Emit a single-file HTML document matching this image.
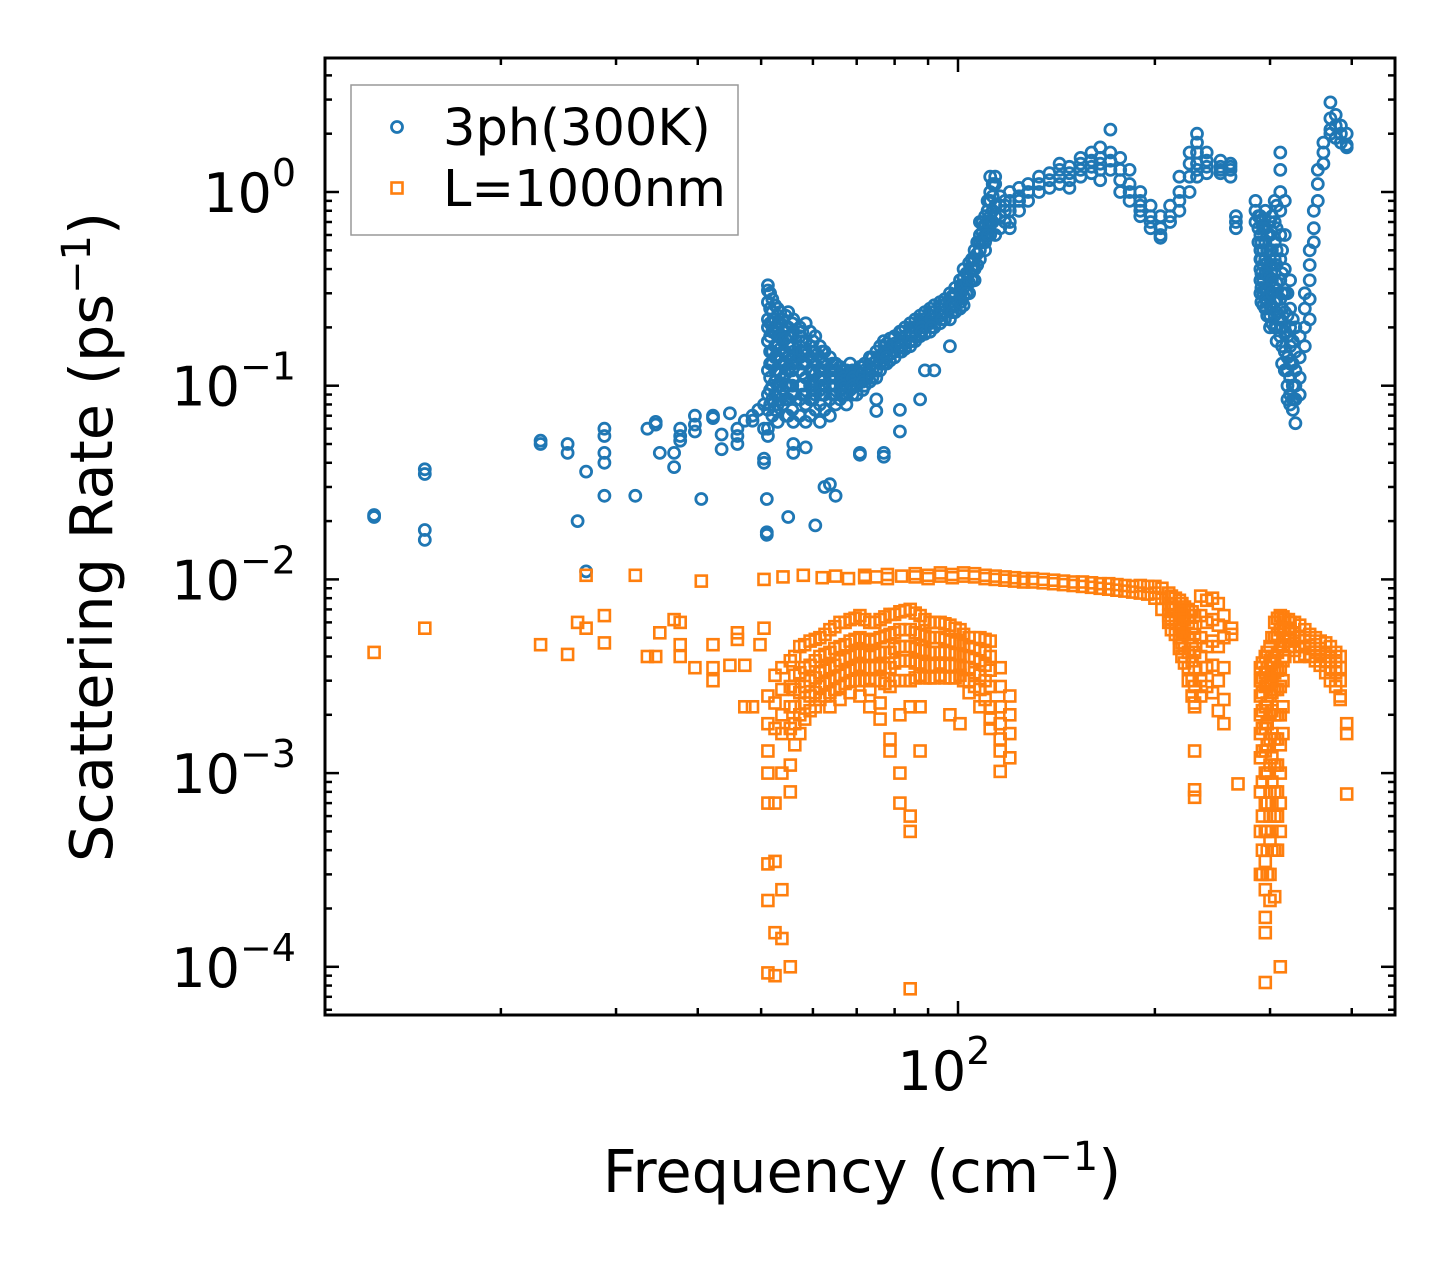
<!DOCTYPE html>
<html><head><meta charset="utf-8"><style>
html,body{margin:0;padding:0;background:#fff}
svg{display:block;font-family:"DejaVu Sans","Liberation Sans",sans-serif}
</style></head><body>
<svg id="chart" width="1455" height="1265" viewBox="0 0 1455 1265" xmlns="http://www.w3.org/2000/svg">
<rect width="1455" height="1265" fill="#fff"/>
<g id="marks"></g>
<g id="axes"></g>
<rect x="325" y="58" width="1070" height="957" fill="none" stroke="#000" stroke-width="3"/>
<g>
<rect x="351" y="85" width="387" height="150" fill="#fff" fill-opacity="0.8" stroke="#999" stroke-width="1.5"/>
<circle cx="397" cy="127" r="5.5" fill="none" stroke="#1f77b4" stroke-width="2.8"/>
<text x="443" y="145" font-size="51">3ph(300K)</text>
<rect x="391.5" y="182.5" width="11" height="11" fill="none" stroke="#ff7f0e" stroke-width="2.6"/>
<text x="443" y="206" font-size="51">L=1000nm</text>
</g>
<text x="862" y="1192" font-size="59" text-anchor="middle">Frequency (cm<tspan font-size="40" dy="-22">−1</tspan><tspan dy="22">)</tspan></text>
<text transform="translate(112,537) rotate(-90)" font-size="59" text-anchor="middle">Scattering Rate (ps<tspan font-size="40" dy="-22">−1</tspan><tspan dy="22">)</tspan></text>
</svg>
<script>
// ---- data ----
const blueFreq = [12.8,15.3,23,25.3,26.2,27,28.8,32.1,33.5,34.5,35,36.8,37.6,39.6,40.5,42.2,43.5,44.8,46,47.2,48.5,49.5,50.5,51,
51.2,52,53,54,55,56,57.3,58.5,59.4,60.5,61.5,62.5,63.7,65,66,67.5,68.4,70,70.8,72,73.3,75,76,77,78.7,80,81.5,83,84.5,86,87.5,89,90.6,92,93.9,95.5,97.2,99,100.7,102,104,106,108,110,112,114,116,118,120,124,128,133,138,143,148,154,160,165,171,177,183,190,197,204,211,218,226,232,240,252,261,266,
290,295,300,305,311,316,322,328,333,339,345,350,355,362,371,378,385,393];
const blueRate = [[0.021,0.0215],[0.035,0.037,0.018,0.016],[0.05,0.052],[0.05,0.045],[0.02],[0.036,0.011],[0.06,0.055,0.045,0.04,0.027],[0.027],[0.06],[0.065,0.063],[0.045],[0.038,0.045],[0.06,0.052,0.055],[0.07,0.063,0.058],[0.026],[0.07,0.068],[0.056,0.047],[0.072],[0.05,0.06,0.055],[0.066],[0.07,0.066],[0.075],[0.08,0.06,0.042,0.04],[0.026,0.017,0.0175],
[0.33,0.31,0.27,0.22,0.2,0.17,0.12,0.09,0.075,0.06,0.055],[0.28,0.24,0.21,0.19,0.15,0.13,0.1,0.085,0.07],[0.25,0.23,0.2,0.18,0.16,0.14,0.12,0.1,0.08,0.065],[0.22,0.19,0.17,0.15,0.13,0.11,0.095,0.08],[0.24,0.2,0.18,0.16,0.14,0.12,0.1,0.085,0.07,0.021],[0.22,0.19,0.15,0.13,0.11,0.09,0.065,0.05,0.045],[0.2,0.18,0.16,0.14,0.12,0.1,0.085,0.07],[0.21,0.17,0.15,0.13,0.11,0.09,0.08,0.065,0.048],[0.19,0.16,0.14,0.12,0.1,0.085,0.07],[0.18,0.15,0.13,0.115,0.1,0.09,0.075,0.019],[0.16,0.14,0.12,0.11,0.095,0.08,0.065],[0.15,0.13,0.12,0.1,0.09,0.075,0.03],[0.14,0.12,0.11,0.1,0.085,0.07,0.031],[0.13,0.12,0.11,0.1,0.09,0.08,0.027],[0.125,0.115,0.105,0.095,0.085],[0.12,0.11,0.1,0.09,0.08],[0.13,0.115,0.1,0.095],[0.12,0.11,0.1,0.09],[0.125,0.115,0.105,0.044,0.045],[0.13,0.12,0.11,0.1],[0.14,0.125,0.115,0.105],[0.15,0.135,0.12,0.11,0.085,0.074],[0.16,0.14,0.13,0.12],[0.17,0.15,0.14,0.13,0.045,0.043],[0.175,0.16,0.145,0.135],[0.18,0.165,0.15,0.14],[0.19,0.17,0.16,0.15,0.075,0.058],[0.2,0.18,0.165,0.155],[0.21,0.19,0.17,0.16],[0.22,0.2,0.18,0.17],[0.23,0.21,0.19,0.18,0.085],[0.24,0.22,0.2,0.185,0.12],[0.25,0.23,0.21,0.19],[0.26,0.24,0.22,0.2,0.12],[0.27,0.25,0.23,0.21],[0.28,0.26,0.24,0.22],[0.3,0.27,0.25,0.22,0.16],[0.32,0.29,0.26,0.24],[0.35,0.31,0.28,0.25],[0.4,0.36,0.32,0.29,0.26],[0.43,0.38,0.34,0.3],[0.5,0.45,0.4,0.35],[0.6,0.7,0.55,0.5,0.45],[0.75,0.68,0.6,0.55,0.5],[1.2,1.0,0.9,0.75,0.7,0.6],[1.2,1.1,0.85,0.75,0.6],[0.95,0.85,0.75,0.65],[0.9,0.85,0.8,0.7],[1.0,0.9,0.8,0.7,0.65],[1.05,0.95,0.9,0.8],[1.1,1.0,0.9],[1.2,1.1,1.0],[1.25,1.15,1.05],[1.4,1.3,1.2,1.1],[1.35,1.25,1.15,1.05],[1.5,1.4,1.3,1.2],[1.6,1.45,1.35,1.25],[1.7,1.5,1.4,1.3,1.15],[2.1,1.6,1.45,1.3],[1.5,1.3,1.15,1.0],[1.3,1.1,1.0,0.9],[1.0,0.9,0.8,0.75,0.85],[0.85,0.75,0.7,0.65],[0.75,0.65,0.6,0.58],[0.85,0.75,0.7],[1.2,1.0,0.9,0.8],[1.6,1.4,1.2,1.0],[2.0,1.8,1.6,1.4,1.3,1.2],[1.6,1.45,1.35,1.25],[1.45,1.35,1.3,1.25],[1.4,1.35,1.3,1.2],[0.75,0.7,0.65],
[0.75,0.6,0.5,0.45,0.4,0.35,0.3],[0.8,0.65,0.55,0.45,0.38,0.32,0.28,0.25],[0.7,0.6,0.5,0.42,0.36,0.3,0.26,0.23,0.2],[0.9,0.7,0.55,0.45,0.38,0.32,0.27,0.23,0.2],[1.6,1.3,1.0,0.8,0.6,0.45,0.35,0.28,0.22,0.18],[0.9,0.6,0.4,0.3,0.24,0.19,0.15,0.12],[0.35,0.25,0.2,0.16,0.13,0.11,0.09,0.08],[0.2,0.15,0.12,0.1,0.085,0.064],[0.18,0.14,0.11,0.09],[0.3,0.25,0.2,0.16],[0.5,0.42,0.35,0.28,0.22],[0.8,0.65,0.55],[1.3,1.1,0.9],[1.8,1.6,1.4],[2.9,2.4,2.1,2.0],[2.5,2.2,1.9],[2.2,2.0,1.8],[2.0,1.75,1.7]];
const blueFreq2 = [51.6,52.5,53.5,54.5,55.8,57.8,60,62,64.3,66.8,69,71.5,74,77.8,82,85,88,91,94.5,98,101,103,105,107,109,111,113,285,288,291,293,297,302,307,313,319,325];
const blueRate2 = [[0.3,0.25,0.21,0.18,0.15,0.13,0.11,0.095,0.08],[0.26,0.22,0.19,0.16,0.14,0.12,0.105,0.09,0.075],[0.24,0.21,0.18,0.155,0.135,0.115,0.1,0.085],[0.23,0.2,0.175,0.15,0.13,0.115,0.1,0.085,0.07],[0.21,0.18,0.16,0.14,0.12,0.1,0.09,0.075],[0.19,0.17,0.15,0.13,0.115,0.1,0.09],[0.17,0.15,0.135,0.12,0.105,0.095,0.085],[0.15,0.135,0.12,0.11,0.1,0.09],[0.13,0.12,0.11,0.1,0.09],[0.12,0.11,0.1,0.09],[0.12,0.11,0.1,0.09],[0.125,0.115,0.105,0.095],[0.14,0.13,0.12,0.11],[0.165,0.15,0.14,0.13],[0.19,0.175,0.16,0.15],[0.2,0.185,0.17],[0.22,0.2,0.19],[0.24,0.22,0.2],[0.26,0.24,0.22],[0.29,0.26,0.24],[0.33,0.3,0.27],[0.38,0.34,0.3],[0.45,0.4,0.35],[0.55,0.48,0.42],[0.7,0.62,0.55],[0.9,0.8,0.7,0.6],[1.1,0.95,0.8,0.7],[0.9,0.8,0.7],[0.75,0.65,0.55],[0.7,0.55,0.45,0.38,0.32,0.27],[0.65,0.5,0.42,0.35,0.3,0.26],[0.6,0.5,0.43,0.37,0.31,0.27,0.23],[0.75,0.62,0.5,0.42,0.35,0.3,0.25,0.21],[0.85,0.65,0.5,0.42,0.34,0.28,0.24,0.2,0.17],[0.5,0.38,0.3,0.25,0.2,0.16,0.13],[0.3,0.23,0.18,0.14,0.12,0.1,0.085],[0.22,0.17,0.13,0.1,0.085,0.075]];

const orangeFreq = [12.8,15.3,23,25.3,26.2,27,28.8,32.1,33.5,34.5,35,36.8,37.6,39.6,40.5,42.2,44.8,46,47.2,48.5,49.8,50.5,
51.2,52.5,53.8,55.4,57.3,59.4,61.5,63.7,66,68.4,70.8,73.3,76,78.7,81.5,84.5,87.5,90.6,93.9,97.2,100.7,104,108,112,116,120,
54,58,62,65,68,72,75,78,82,86,90,94,98,102,106,110,114,118,122,126,130,135,140,145,150,155,160,165,170,175,180,185,190,195,
200,205,210,215,220,225,230,235,240,245,250,255,262,268,
290,295,300,305,311,316,322,333,345,358,371,384,393];
const orangeRate = [[0.0042],[0.0056],[0.0046],[0.0041],[0.006],[0.0056,0.0105],[0.0065,0.0047],[0.0105],[0.004],[0.004],[0.0053],[0.0062],[0.006,0.0046,0.004],[0.0035],[0.0098],[0.0035,0.0046,0.003],[0.0036],[0.0053,0.0049],[0.0036,0.0022],[0.0022],[0.0046],[0.01,0.0056],
[0.0018,0.0013,0.001,0.0007,0.00034,0.00022,0.000093,0.0025],[0.0032,0.0023,0.0017,0.0007,0.00035,0.00015,0.00009],[0.0035,0.0027,0.002,0.0016,0.001,0.00025,0.00014],[0.0038,0.0028,0.0022,0.0017,0.0011,0.0008,0.0001],[0.0045,0.0033,0.0026,0.002,0.0016],[0.0048,0.0036,0.003,0.0025,0.0021],[0.005,0.004,0.0033,0.0028,0.0024],[0.0055,0.0042,0.0035,0.003,0.0026,0.0022],[0.006,0.0045,0.0038,0.0032,0.0028,0.0024],[0.0062,0.0048,0.004,0.0034,0.003,0.0026],[0.0065,0.005,0.0042,0.0036,0.003,0.0025],[0.006,0.0048,0.004,0.0035,0.003,0.0027,0.0022],[0.0062,0.005,0.0042,0.0036,0.003,0.0023,0.0019],[0.0066,0.0052,0.0042,0.0035,0.0028,0.0015,0.0013],[0.0068,0.0055,0.0045,0.0038,0.003,0.002,0.001,0.0007],[0.007,0.0055,0.0045,0.0038,0.003,0.0022,0.0005,0.0006,0.000077],[0.0065,0.0052,0.0043,0.0037,0.0032,0.0022,0.0013],[0.006,0.005,0.0042,0.0036,0.0031],[0.006,0.005,0.0042,0.0037,0.0032],[0.0058,0.0048,0.0042,0.0036,0.0031,0.002],[0.0055,0.0047,0.0041,0.0036,0.0032,0.0018],[0.005,0.0045,0.004,0.0035,0.003,0.0026],[0.005,0.0043,0.0038,0.0032,0.0027,0.0022],[0.0048,0.004,0.0034,0.0028,0.0022,0.0019,0.0017],[0.0035,0.0028,0.0022,0.0018,0.0015,0.0013,0.00102],[0.0025,0.002,0.0016,0.0012],
[0.0103],[0.0105],[0.0102],[0.0104],[0.0101],[0.0105,0.0102],[0.0103],[0.0106,0.0101],[0.0104],[0.0103,0.0107],[0.0105,0.0101],[0.0104,0.0108],[0.0102,0.0106],[0.0104,0.0108],[0.0103,0.0107],[0.0105,0.0101],[0.0104,0.01],[0.0103,0.0099],[0.0102,0.0098],[0.0101,0.0097],[0.0101,0.0097],[0.01,0.0096],[0.0099,0.0095],[0.0098,0.0094],[0.0097,0.0093],[0.0097,0.0092],[0.0096,0.0091],[0.0095,0.009],[0.0095,0.0089],[0.0094,0.0088],[0.0093,0.0087],[0.0092,0.0086],[0.0093,0.0085],[0.0092,0.0084],
[0.0092,0.0085,0.008],[0.009,0.008,0.007],[0.0085,0.0075,0.0065,0.006],[0.008,0.007,0.006,0.0052],[0.0075,0.0065,0.0055,0.0047,0.004],[0.007,0.006,0.005,0.0042,0.0035,0.003],[0.0065,0.0052,0.0042,0.0035,0.0028,0.0023,0.0022,0.00075,0.00082,0.0013],[0.0082,0.0065,0.005,0.004,0.003,0.0025],[0.0078,0.006,0.0045,0.0035,0.0028],[0.008,0.0062,0.0048,0.0036,0.0026],[0.0075,0.0058,0.0045,0.003,0.0021],[0.0065,0.005,0.0035,0.0024,0.0018],[0.0056,0.0052],[0.00088],
[0.0035,0.003,0.0025,0.002,0.0016,0.0012,0.0008,0.0005,0.0003],[0.004,0.0033,0.0028,0.0022,0.0017,0.0013,0.001,0.0007,0.0005,0.00035,0.00025,0.00018,0.00015,0.000083],[0.0045,0.0038,0.003,0.0025,0.002,0.0015,0.0011,0.0008,0.0006,0.00045,0.0003,0.00022],[0.006,0.005,0.004,0.0033,0.0027,0.002,0.0015,0.0011,0.0008,0.0006,0.0004,0.00023],[0.0065,0.0055,0.0045,0.0035,0.0028,0.002,0.0014,0.001,0.0007,0.0005,0.0001],[0.0062,0.0055,0.0048,0.004],[0.006,0.0055,0.005,0.0045],[0.0058,0.005,0.0045,0.004],[0.0052,0.0048,0.0044,0.004],[0.0048,0.0044,0.004,0.0036],[0.0045,0.004,0.0035,0.003],[0.004,0.0035,0.003,0.0025,0.0024],[0.0018,0.0016,0.00078]];
const orangeFreq2 = [56.3,58.3,60.5,62.6,64.8,67.2,69.6,72,74.6,77.3,80,83,86,89,92,95.5,99,102,106,110,212,218,222,228,292,297,302,308,314,320,327,339,352,365,378];
const orangeRate2 = [[0.004,0.0032,0.0027,0.0022,0.0018,0.0014],[0.0046,0.0035,0.0028,0.0023,0.0019],[0.0049,0.0038,0.0031,0.0026,0.0022],[0.0052,0.0041,0.0034,0.0029,0.0025],[0.0057,0.0044,0.0036,0.0031,0.0027],[0.006,0.0046,0.0039,0.0033,0.0029],[0.0063,0.0049,0.0041,0.0035,0.003],[0.0062,0.0049,0.0041,0.0035,0.003],[0.006,0.0049,0.0041,0.0035,0.003],[0.0064,0.0051,0.0042,0.0035,0.0029],[0.0066,0.0053,0.0044,0.0037,0.003],[0.0069,0.0055,0.0045,0.0038,0.003],[0.0067,0.0053,0.0044,0.0037,0.0031],[0.0062,0.0051,0.0043,0.0036,0.0031],[0.006,0.005,0.0042,0.0036,0.0031],[0.0059,0.0049,0.0042,0.0036,0.0031],[0.0056,0.0047,0.0041,0.0036,0.0031],[0.0052,0.0046,0.004,0.0035,0.003],[0.005,0.0044,0.0039,0.0033,0.0028],[0.0049,0.0042,0.0036,0.003,0.0024],[0.0082,0.0072,0.0062,0.0055],[0.0078,0.0068,0.0058,0.005,0.0044],[0.0072,0.0062,0.0052,0.0044,0.0037],[0.0068,0.0056,0.0046,0.0038,0.003,0.0025],[0.0037,0.0031,0.0026,0.0021,0.0017,0.0013,0.0009,0.0006,0.0004,0.0003],[0.0042,0.0035,0.0029,0.0023,0.0018,0.0014,0.001,0.0007,0.0005,0.0004,0.0003],[0.005,0.004,0.0032,0.0026,0.0021,0.0016,0.0012,0.0009,0.0007,0.0005,0.0004],[0.0063,0.0052,0.0042,0.0034,0.0027,0.002,0.0015,0.0011,0.0008,0.0006,0.0004],[0.0064,0.0056,0.0046,0.0038,0.003,0.0022,0.0016],[0.0062,0.0056,0.005,0.0045],[0.006,0.0053,0.0048,0.0043],[0.0055,0.005,0.0045,0.0041],[0.005,0.0046,0.0042,0.0038],[0.0047,0.0042,0.0038,0.0033],[0.0042,0.0038,0.0033,0.0028]];

const yTickExps = [0,-1,-2,-3,-4];
const yTickLabels = ["0","−1","−2","−3","−4"];
const xMinorTicks = [20,30,40,50,60,70,80,90,200,300,400];
const xMajorTicks = [100];
const xTickLabels = ["2"];

// ---- scales ----
const X0=325,X1=1395,Y0=58,Y1=1015;
const PX_DEC_X=654, PX_DEC_Y=193.7;
function xs(f){return 958+(Math.log10(f)-2)*PX_DEC_X;}
function ys(r){return 192-Math.log10(r)*PX_DEC_Y;}
const NS="http://www.w3.org/2000/svg";
const marks=document.getElementById('marks');
const axes=document.getElementById('axes');
function mk(tag,attrs,parent){const e=document.createElementNS(NS,tag);for(const k in attrs)e.setAttribute(k,attrs[k]);parent.appendChild(e);return e;}

function drawBlue(F,R){F.forEach((f,i)=>{R[i].forEach(r=>{
  const c=mk('circle',{cx:xs(f).toFixed(1),cy:ys(r).toFixed(1),r:5.5,fill:'none',stroke:'#1f77b4','stroke-width':2.8},marks);
  
  
});});}
function drawOrange(F,R){F.forEach((f,i)=>{R[i].forEach(r=>{
  const s=mk('rect',{x:(xs(f)-5.5).toFixed(1),y:(ys(r)-5.5).toFixed(1),width:11,height:11,fill:'none',stroke:'#ff7f0e','stroke-width':2.6},marks);
  
  
});});}
drawBlue(blueFreq,blueRate);
drawBlue(blueFreq2,blueRate2);
drawOrange(orangeFreq,orangeRate);
drawOrange(orangeFreq2,orangeRate2);

// y ticks
for(let d=1;d>=-5;d--){
  for(let m=1;m<10;m++){
    const y=ys(m*Math.pow(10,d));
    if(y<Y0||y>Y1)continue;
    const L=m===1?14:7;
    const t1=mk('line',{x1:X0,x2:X0+L,y1:y,y2:y,stroke:'#000','stroke-width':2.5},axes);
    
    
    const t2=mk('line',{x1:X1,x2:X1-L,y1:y,y2:y,stroke:'#000','stroke-width':2.5},axes);
    
    
  }
}
yTickExps.forEach((e,i)=>{
  const t=mk('text',{x:296,y:ys(Math.pow(10,e))+20,'font-size':54,'text-anchor':'end'},axes);
  
  
  t.innerHTML='10<tspan font-size="38" dy="-26">'+yTickLabels[i]+'</tspan>';
});
// x ticks
xMinorTicks.concat(xMajorTicks).forEach(f=>{
  const x=xs(f); const L=xMajorTicks.includes(f)?14:7;
  const a=mk('line',{x1:x,x2:x,y1:Y1,y2:Y1-L,stroke:'#000','stroke-width':2.5},axes);
  
  
  const b=mk('line',{x1:x,x2:x,y1:Y0,y2:Y0+L,stroke:'#000','stroke-width':2.5},axes);
  
  
});
xMajorTicks.forEach((f,i)=>{
  const t=mk('text',{x:xs(f)-14,y:1090,'font-size':54,'text-anchor':'middle'},axes);
  
  
  t.innerHTML='10<tspan font-size="38" dy="-26">'+xTickLabels[i]+'</tspan>';
});
</script>
</body></html>
